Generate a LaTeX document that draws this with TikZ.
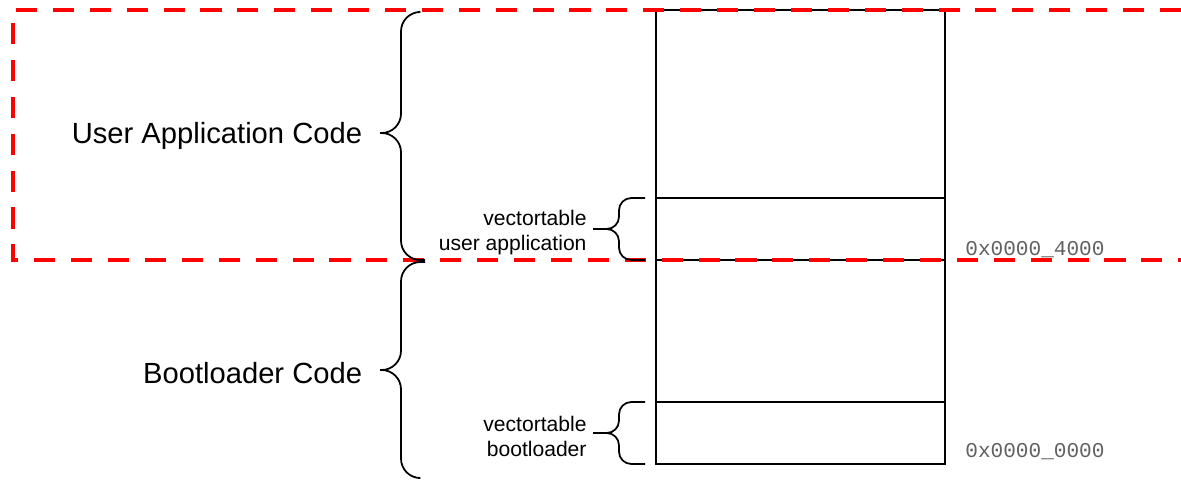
\documentclass[tikz,border=0pt]{standalone}
\usepackage{fontspec}
\setmainfont{Liberation Sans}
\setmonofont{Liberation Mono}
\usetikzlibrary{positioning}

\tikzset{
  mem/.style={draw=black,line width=1pt},
  curly/.style={draw=black,line width=1pt,rounded corners=#1},
  biglabel/.style={font=\fontsize{16.6}{20}\selectfont,inner sep=0pt,yshift=-1.5pt},
  smalllabel/.style={font=\fontsize{12}{14.2}\selectfont,align=right,inner sep=0pt,yshift=-2pt},
  addr/.style={font=\ttfamily\fontsize{12}{14}\selectfont,text=black!62,anchor=west,inner sep=0pt},
  region/.style={draw=red,line width=2.7pt,dash pattern=on 12pt off 9pt},
}

\begin{document}
\begin{tikzpicture}[x=0.2mm,y=-0.2mm]
  \useasboundingbox (0,0) rectangle (1181,481);

  % Speicherbereich
  \draw[mem] (656,10) rectangle (945,464);
  \draw[mem] (656,198) -- (945,198);
  \draw[mem] (656,260) -- (945,260);
  \draw[mem] (656,402) -- (945,402);

  % Bereich der Anwendung
  \draw[region] (1181,10) -- (13,10) -- (13,260) -- (1181,260);

  % grosse Klammern
  \coordinate (tipApp) at (380,133);
  \coordinate (tipBoot) at (380,370);
  \draw[curly=11pt] (418,12) -- (401,12) -- (401,133) -- (tipApp);
  \draw[curly=11pt] (tipApp) -- (401,133) -- (401,260) -- (425,260);
  \draw[curly=11pt] (425,262) -- (401,262) -- (401,370) -- (tipBoot);
  \draw[curly=11pt] (tipBoot) -- (401,370) -- (401,478) -- (418,478);

  % kleine Klammern
  \coordinate (tipVecApp) at (593,229);
  \coordinate (tipVecBoot) at (593,433);
  \draw[curly=7pt] (645,198) -- (619,198) -- (619,229) -- (tipVecApp);
  \draw[curly=7pt] (tipVecApp) -- (619,229) -- (619,260) -- (645,260);
  \draw[curly=7pt] (645,402) -- (619,402) -- (619,433) -- (tipVecBoot);
  \draw[curly=7pt] (tipVecBoot) -- (619,433) -- (619,464) -- (645,464);

  % Beschriftungen
  \node[biglabel,left=10pt of tipApp] (lblApp) {User Application Code};
  \node[biglabel,left=10pt of tipBoot] (lblBoot) {Bootloader Code};
  \node[smalllabel,left=3.5pt of tipVecApp] (lblVecApp) {vectortable\\user application};
  \node[smalllabel,left=3.5pt of tipVecBoot] (lblVecBoot) {vectortable\\bootloader};

  % Adressen
  \node[addr] (adrApp) at (965,250) {0x0000\_4000};
  \node[addr] (adrBoot) at (965,452) {0x0000\_0000};
\end{tikzpicture}
\end{document}
